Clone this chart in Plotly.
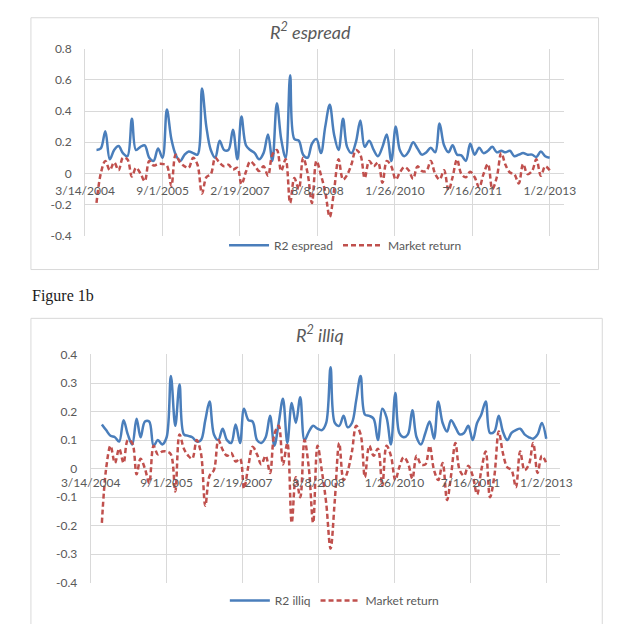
import pandas as pd
import plotly.graph_objects as go

# ---------------- data ----------------
dates = pd.date_range("2004-06-01", periods=104, freq="MS")

r2_espread = [
    0.15, 0.16, 0.27, 0.09, 0.15, 0.175, 0.13, 0.11, 0.35, 0.15,
    0.17, 0.18, 0.10, 0.08, 0.16, 0.10, 0.41, 0.22, 0.12, 0.08,
    0.12, 0.14, 0.13, 0.12, 0.545, 0.30, 0.15, 0.10, 0.21, 0.15,
    0.15, 0.28, 0.09, 0.365, 0.18, 0.15, 0.13, 0.09, 0.13, 0.25,
    0.08, 0.45, 0.22, 0.10, 0.63, 0.22, 0.21, 0.12, 0.10, 0.19,
    0.22, 0.13, 0.30, 0.44, 0.25, 0.15, 0.35, 0.17, 0.13, 0.20,
    0.34, 0.17, 0.21, 0.15, 0.11, 0.17, 0.25, 0.08, 0.30, 0.15,
    0.11, 0.14, 0.20, 0.16, 0.12, 0.135, 0.165, 0.135, 0.32, 0.18,
    0.135, 0.18, 0.12, 0.115, 0.08, 0.19, 0.12, 0.165, 0.13, 0.145,
    0.17, 0.135, 0.145, 0.135, 0.145, 0.11, 0.12, 0.13, 0.12, 0.12,
    0.105, 0.14, 0.11, 0.10,
]

r2_illiq = [
    0.155, 0.135, 0.115, 0.11, 0.095, 0.17, 0.12, 0.085, 0.175, 0.11,
    0.165, 0.165, 0.08, 0.10, 0.085, 0.11, 0.325, 0.15, 0.295, 0.12,
    0.115, 0.11, 0.095, 0.10, 0.17, 0.235, 0.12, 0.10, 0.14, 0.10,
    0.09, 0.155, 0.09, 0.21, 0.17, 0.165, 0.10, 0.09, 0.11, 0.185,
    0.08, 0.16, 0.245, 0.09, 0.23, 0.16, 0.25, 0.10, 0.13, 0.15,
    0.14, 0.135, 0.16, 0.355, 0.16, 0.15, 0.185, 0.145, 0.16, 0.24,
    0.325, 0.19, 0.185, 0.175, 0.10, 0.21, 0.18, 0.085, 0.265, 0.125,
    0.11, 0.12, 0.205, 0.11, 0.085, 0.125, 0.165, 0.105, 0.235, 0.16,
    0.13, 0.17, 0.145, 0.12, 0.125, 0.15, 0.10, 0.16, 0.19, 0.235,
    0.125, 0.13, 0.185, 0.13, 0.10, 0.125, 0.135, 0.14, 0.12, 0.11,
    0.105, 0.12, 0.16, 0.105,
]

market_return = [
    -0.19, 0.00, 0.08, 0.02, 0.07, 0.02, 0.10, 0.09, -0.02, 0.035,
    0.00, -0.05, 0.08, 0.05, 0.06, 0.06, 0.05, -0.08, 0.12, 0.07,
    0.045, 0.035, 0.10, 0.055, -0.13, -0.025, -0.005, 0.10, 0.067, 0.045,
    0.055, 0.025, 0.035, -0.07, 0.01, 0.077, 0.05, 0.015, 0.045, -0.015,
    0.12, 0.15, 0.015, 0.09, -0.19, -0.03, -0.10, 0.10, 0.00, -0.19,
    0.08, -0.01, -0.12, -0.28, -0.11, 0.09, -0.04, -0.01, 0.06, 0.15,
    0.12, -0.03, 0.08, 0.045, 0.07, -0.06, 0.08, 0.045, -0.04, 0.005,
    0.04, 0.02, -0.035, 0.045, 0.015, 0.015, 0.08, -0.005, -0.04, 0.02,
    -0.11, -0.025, 0.09, -0.005, -0.025, 0.01, -0.025, -0.09, -0.005, 0.06,
    -0.10, -0.025, 0.13, 0.055, 0.005, -0.005, -0.065, 0.06, -0.005, 0.015,
    0.09, -0.015, 0.045, 0.02,
]

x_tick_vals = ["2004-03-14", "2005-09-01", "2007-02-19", "2008-08-08",
               "2010-01-26", "2011-07-16", "2013-01-02"]
x_tick_text = ["3/14/2004", "9/1/2005", "2/19/2007", "8/8/2008",
               "1/26/2010", "7/16/2011", "1/2/2013"]
x_range = ["2004-03-14", "2013-04-10"]

y1_vals = [-0.4, -0.2, 0, 0.2, 0.4, 0.6, 0.8]
y1_text = ["-0.4", "-0.2", "0", "0.2", "0.4", "0.6", "0.8"]
y2_vals = [-0.4, -0.3, -0.2, -0.1, 0, 0.1, 0.2, 0.3, 0.4]
y2_text = ["-0.4", "-0.3", "-0.2", "-0.1", "0", "0.1", "0.2", "0.3", "0.4"]

# ---------------- styling ----------------
W, H = 617, 624
BLUE = "#4A7EBB"
RED = "#C0504D"
GRID = "#D9D9D9"
TXT = "#595959"
FONT = "Lato"


def fx(p):
    return p / W


def fy(p):
    return 1 - p / H


fig = go.Figure()

fig.add_trace(go.Scatter(x=dates, y=r2_espread, name="R2 espread", mode="lines",
                         line=dict(color=BLUE, width=2.5, shape="spline", smoothing=1.0),
                         xaxis="x", yaxis="y", legend="legend"))
fig.add_trace(go.Scatter(x=dates, y=market_return, name="Market return", mode="lines",
                         line=dict(color=RED, width=2.5, dash="5px,3px", shape="spline", smoothing=1.0),
                         xaxis="x", yaxis="y", legend="legend"))
fig.add_trace(go.Scatter(x=dates, y=r2_illiq, name="R2 illiq", mode="lines",
                         line=dict(color=BLUE, width=2.5, shape="spline", smoothing=1.0),
                         xaxis="x2", yaxis="y2", legend="legend2"))
fig.add_trace(go.Scatter(x=dates, y=market_return, name="Market return", mode="lines",
                         line=dict(color=RED, width=2.5, dash="5px,3px", shape="spline", smoothing=1.0),
                         xaxis="x2", yaxis="y2", legend="legend2"))

# plot-area geometry (pixels)
c1_left, c1_right, c1_top, c1_bot = 59, 572, 41.7, 233.3
c2_left, c2_right, c2_top, c2_bot = 65, 568, 355, 589
c1_zero = c1_top + (0.8 / 1.2) * (c1_bot - c1_top)
c2_zero = c2_top + 0.5 * (c2_bot - c2_top)

xcommon = dict(type="date", range=x_range, tickmode="array", tickvals=x_tick_vals,
               ticktext=x_tick_text, showgrid=True, gridcolor=GRID, gridwidth=1,
               zeroline=False, showline=False, ticks="outside",
               tickcolor="rgba(0,0,0,0)", tickfont=dict(family=FONT, size=12, color=TXT),
               tickangle=0, anchor="free", fixedrange=True)
ycommon = dict(tickmode="array", showgrid=True, gridcolor=GRID, gridwidth=1,
               zeroline=True, zerolinecolor=GRID, zerolinewidth=1,
               showline=True, linecolor=GRID, linewidth=1,
               ticks="outside", ticklen=10, tickcolor="rgba(0,0,0,0)",
               tickfont=dict(family=FONT, size=12, color=TXT), fixedrange=True)

fig.update_layout(
    width=W, height=H,
    margin=dict(l=0, r=0, t=0, b=0),
    paper_bgcolor="white", plot_bgcolor="white",
    xaxis=dict(xcommon, domain=[fx(c1_left), fx(c1_right)], position=fy(c1_zero), ticklen=6),
    yaxis=dict(ycommon, domain=[fy(c1_bot), fy(c1_top)], range=[-0.4, 0.8],
               tickvals=y1_vals, ticktext=y1_text, anchor="x"),
    xaxis2=dict(xcommon, domain=[fx(c2_left), fx(c2_right)], position=fy(c2_zero), ticklen=3),
    yaxis2=dict(ycommon, domain=[fy(c2_bot), fy(c2_top)], range=[-0.4, 0.4],
                tickvals=y2_vals, ticktext=y2_text, anchor="x2"),
    legend=dict(orientation="h", x=fx(338), xanchor="center", y=fy(243), yanchor="middle",
                font=dict(family=FONT, size=12, color=TXT), bgcolor="rgba(0,0,0,0)",
                itemwidth=40, tracegroupgap=0),
    legend2=dict(orientation="h", x=fx(326), xanchor="center", y=fy(607), yanchor="middle",
                 font=dict(family=FONT, size=12, color=TXT), bgcolor="rgba(0,0,0,0)",
                 itemwidth=40, tracegroupgap=0),
    showlegend=True,
    shapes=[
        dict(type="rect", xref="paper", yref="paper", x0=fx(1), x1=fx(609), y0=fy(268), y1=fy(10),
             line=dict(color=GRID, width=1), fillcolor="rgba(0,0,0,0)", layer="below"),
        dict(type="rect", xref="paper", yref="paper", x0=fx(1), x1=fx(613), y0=fy(640), y1=fy(318),
             line=dict(color=GRID, width=1), fillcolor="rgba(0,0,0,0)", layer="below"),
    ],
    annotations=[
        dict(text="<i>R<sup>2</sup> espread</i>", xref="paper", yref="paper", x=fx(300), y=fy(24),
             xanchor="center", yanchor="middle", showarrow=False,
             font=dict(family=FONT, size=18, color=TXT)),
        dict(text="<i>R<sup>2</sup> illiq</i>", xref="paper", yref="paper", x=fx(311), y=fy(334),
             xanchor="center", yanchor="middle", showarrow=False,
             font=dict(family=FONT, size=18, color=TXT)),
        dict(text="Figure 1b", xref="paper", yref="paper", x=0, y=fy(295),
             xanchor="left", yanchor="middle", showarrow=False,
             font=dict(family="Liberation Serif", size=16, color="#1a1a1a")),
    ],
)

fig.write_html("out.html")
